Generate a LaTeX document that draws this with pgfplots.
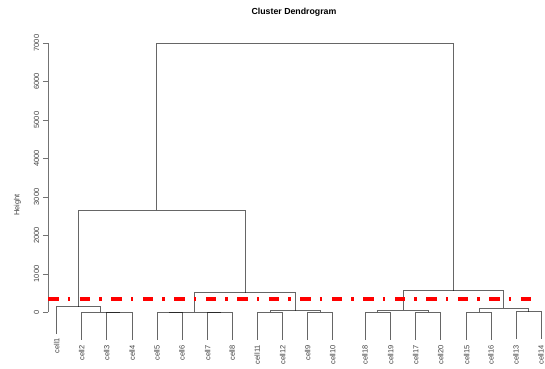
\documentclass[border=0pt]{standalone}
\usepackage{pgfplots}
\pgfplotsset{compat=1.18}
\usepackage{fontspec}
\setmainfont{Liberation Sans}
\definecolor{lbl}{gray}{0.25}
\begin{document}
\begin{tikzpicture}[lf/.style={rotate=90, anchor=east, inner sep=0pt, font=\fontsize{7.5}{9}\selectfont, text=lbl}]
\begin{axis}[
  scale only axis, width=497bp, height=269.5bp,
  xmin=48, xmax=545, ymin=0, ymax=7000,
  clip=false,
  axis x line=none, axis y line=left,
  axis line style={-, black!55, line width=0.9bp},
  ytick={0,1000,...,7000},
  tick align=outside, major tick length=5bp,
  y tick style={black!55, line width=0.9bp},
  /pgf/number format/1000 sep={},
  /pgf/number format/assume math mode=true,
  scaled y ticks=false,
  yticklabel shift={3.5bp},
  yticklabel style={rotate=90, anchor=south, inner sep=0pt, font=\fontsize{7.5}{9}\selectfont, text=lbl},
  dend/.style={black, opacity=0.6, line width=0.95bp, mark=none},
]
\path (axis cs:0,8117) rectangle (axis cs:545,-1467);
% cells 1-4
\addplot[dend] coordinates {(106.7,-710)(106.7,0)(132.3,0)(132.3,-710)};
\addplot[dend] coordinates {(81.7,-708)(81.7,2)(119.5,2)(119.5,0)};
\addplot[dend] coordinates {(56.7,-560)(56.7,150)(100.7,150)(100.7,2)};
% cells 5-8
\addplot[dend] coordinates {(157,-710)(157,0)(182,0)(182,-710)};
\addplot[dend] coordinates {(207.7,-710)(207.7,0)(232.3,0)(232.3,-710)};
\addplot[dend] coordinates {(169.5,0)(169.5,3)(220,3)(220,0)};
% cells 11,12,9,10
\addplot[dend] coordinates {(257.3,-710)(257.3,0)(282.7,0)(282.7,-710)};
\addplot[dend] coordinates {(307.7,-710)(307.7,0)(332.7,0)(332.7,-710)};
\addplot[dend] coordinates {(270,0)(270,47)(320.2,47)(320.2,0)};
% cells 5-12
\addplot[dend] coordinates {(194.3,3)(194.3,519)(295,519)(295,47)};
% cells 1-12
\addplot[dend] coordinates {(78.7,150)(78.7,2655)(245,2655)(245,519)};
% cells 18,19,17,20
\addplot[dend] coordinates {(365,-705)(365,5)(390.7,5)(390.7,-705)};
\addplot[dend] coordinates {(415.7,-705)(415.7,5)(440.7,5)(440.7,-705)};
\addplot[dend] coordinates {(377.8,5)(377.8,65)(428.2,65)(428.2,5)};
% cells 15,16,13,14
\addplot[dend] coordinates {(466.7,-705)(466.7,5)(491,5)(491,-705)};
\addplot[dend] coordinates {(516,-690)(516,20)(541,20)(541,-690)};
\addplot[dend] coordinates {(479,5)(479,109)(528.5,109)(528.5,20)};
% right cluster
\addplot[dend] coordinates {(403.3,65)(403.3,566)(503.3,566)(503.3,109)};
% root
\addplot[dend] coordinates {(156.7,2655)(156.7,6990)(453.3,6990)(453.3,566)};
% cut line
\addplot[red, line width=4bp, mark=none, dash pattern=on 10.5bp off 9bp on 2.5bp off 9.5bp] coordinates {(48.3,350)(535,350)};
% leaf labels
\node[lf] at (axis cs:56.7,-662) {cell1};
\node[lf] at (axis cs:81.7,-844) {cell2};
\node[lf] at (axis cs:106.7,-844) {cell3};
\node[lf] at (axis cs:132.3,-844) {cell4};
\node[lf] at (axis cs:157,-844) {cell5};
\node[lf] at (axis cs:182,-844) {cell6};
\node[lf] at (axis cs:207.7,-844) {cell7};
\node[lf] at (axis cs:232.3,-844) {cell8};
\node[lf] at (axis cs:257.3,-844) {cell11};
\node[lf] at (axis cs:282.7,-844) {cell12};
\node[lf] at (axis cs:307.7,-844) {cell9};
\node[lf] at (axis cs:332.7,-844) {cell10};
\node[lf] at (axis cs:365,-844) {cell18};
\node[lf] at (axis cs:390.7,-844) {cell19};
\node[lf] at (axis cs:415.7,-844) {cell17};
\node[lf] at (axis cs:440.7,-844) {cell20};
\node[lf] at (axis cs:466.7,-844) {cell15};
\node[lf] at (axis cs:491,-844) {cell16};
\node[lf] at (axis cs:516,-844) {cell13};
\node[lf] at (axis cs:541,-844) {cell14};
\node[font=\fontsize{8.8}{10}\selectfont\bfseries] at (axis cs:294,7805) {Cluster Dendrogram};
\node[rotate=90, font=\fontsize{7.5}{9}\selectfont, text=lbl] at (axis cs:17.5,2792) {Height};
\end{axis}
\end{tikzpicture}
\end{document}
